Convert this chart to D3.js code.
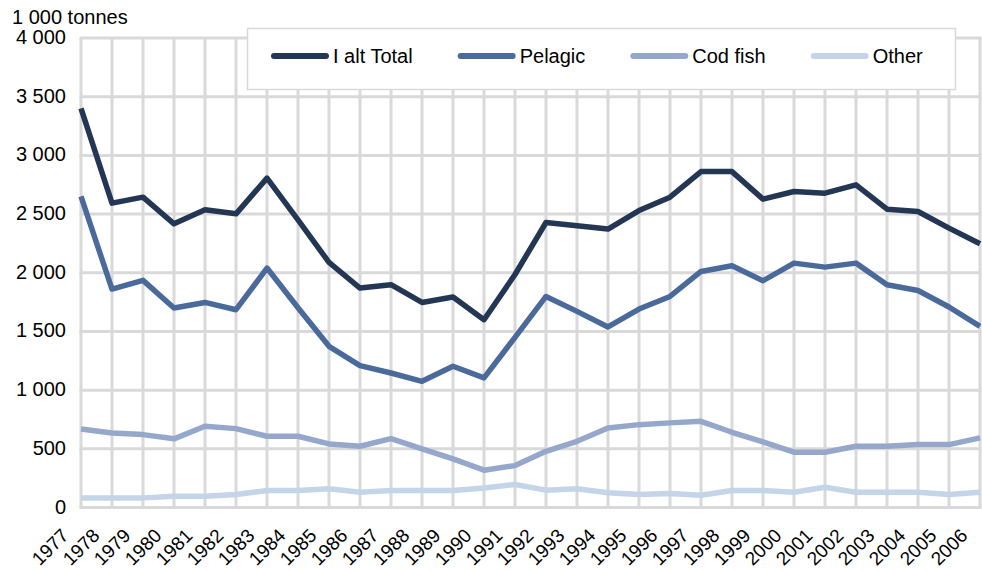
<!DOCTYPE html>
<html>
<head>
<meta charset="utf-8">
<script src="https://cdn.jsdelivr.net/npm/d3@7"></script>
<style>
  body { margin: 0; background: #fff; }
  svg { display: block; font-family: "Liberation Sans", Arial, sans-serif; }
</style>
</head>
<body>
<div id="chart"></div>
<script>
// --- Data (1 000 tonnes) ---
const years = d3.range(1977, 2007);
const seriesNames = ["I alt Total", "Pelagic", "Cod fish", "Other"];
const total = [3400, 2593, 2644, 2417, 2536, 2502, 2806, 2451, 2088, 1870,
               1898, 1747, 1793, 1600, 1985, 2428, 2400, 2372, 2530, 2644,
               2862, 2862, 2627, 2692, 2678, 2749, 2542, 2522, 2380, 2247];
const pelagic = [2650, 1861, 1935, 1700, 1747, 1685, 2040, 1702, 1373, 1209,
                 1146, 1075, 1203, 1104, 1450, 1798, 1671, 1538, 1691, 1798,
                 2011, 2060, 1932, 2082, 2048, 2082, 1898, 1849, 1708, 1543];
const codFish = [669, 635, 621, 585, 692, 672, 607, 607, 542, 522,
                 587, 500, 414, 318, 357, 479, 564, 678, 706, 721,
                 734, 641, 559, 471, 471, 522, 522, 536, 536, 593];
const other = [82, 82, 82, 96, 96, 111, 145, 145, 159, 130,
               145, 145, 145, 167, 196, 148, 159, 125, 111, 120,
               105, 145, 145, 130, 173, 130, 130, 130, 111, 130];
const yTicks = d3.range(0, 4001, 500);
const unitLabel = "1 000 tonnes";

const colors = ["#233654", "#4b6a9c", "#95a8cc", "#c4d5e9"];
const series = [total, pelagic, codFish, other].map((values, i) => ({
    name: seriesNames[i],
    color: colors[i],
    values: values.map((v, j) => ({ year: years[j], value: v }))
}));

// --- Layout ---
const width = 982, height = 571;
const margin = { top: 38, right: 2, bottom: 63, left: 81 };
const gridColor = "#d9d9d9";

const svg = d3.select("#chart").append("svg")
    .attr("width", width)
    .attr("height", height);

const x = d3.scaleLinear()
    .domain(d3.extent(years))
    .range([margin.left, width - margin.right]);
const y = d3.scaleLinear()
    .domain([0, 4000])
    .range([height - margin.bottom - 0.5, margin.top]);

const locale = d3.formatLocale({ decimal: ",", thousands: " ", grouping: [3], currency: ["", ""] });
const fmt = locale.format(",d");

// --- Grid ---
const grid = svg.append("g").attr("stroke", gridColor).attr("stroke-width", 3);
grid.selectAll("line.h").data(yTicks).join("line")
    .attr("class", "h")
    .attr("x1", x.range()[0] - 1.5).attr("x2", x.range()[1] + 1.5)
    .attr("y1", d => y(d)).attr("y2", d => y(d));
grid.selectAll("line.v").data(years).join("line")
    .attr("class", "v")
    .attr("x1", d => x(d)).attr("x2", d => x(d))
    .attr("y1", y(4000)).attr("y2", y(0));

// --- Y axis labels ---
svg.append("g").selectAll("text").data(yTicks).join("text")
    .attr("x", 66)
    .attr("y", d => y(d))
    .attr("dy", "0.3em")
    .attr("text-anchor", "end")
    .attr("font-size", 20)
    .attr("fill", "#000")
    .text(d => fmt(d));

svg.append("text")
    .attr("x", 12).attr("y", 24)
    .attr("font-size", 20)
    .attr("fill", "#000")
    .text(unitLabel);

// --- X axis labels ---
svg.append("g").selectAll("text").data(years).join("text")
    .attr("transform", d => `translate(${x(d) - 16},532) rotate(-45)`)
    .attr("dy", "0.35em")
    .attr("text-anchor", "end")
    .attr("font-size", 19)
    .attr("fill", "#000")
    .text(d => d);

// --- Lines ---
const line = d3.line()
    .x(d => x(d.year))
    .y(d => y(d.value));

svg.append("g").selectAll("path").data(series).join("path")
    .attr("d", d => line(d.values))
    .attr("fill", "none")
    .attr("stroke", d => d.color)
    .attr("stroke-width", 5.5)
    .attr("stroke-linejoin", "round");

// --- Legend ---
const legend = svg.append("g");
legend.append("rect")
    .attr("x", 247.5).attr("y", 28.5)
    .attr("width", 708).attr("height", 61)
    .attr("fill", "#fff")
    .attr("stroke", gridColor)
    .attr("stroke-width", 1.5);

let lx = 274;
series.forEach(s => {
    const g = legend.append("g");
    g.append("line")
        .attr("x1", lx).attr("x2", lx + 52)
        .attr("y1", 56).attr("y2", 56)
        .attr("stroke", s.color)
        .attr("stroke-width", 6)
        .attr("stroke-linecap", "round");
    const t = g.append("text")
        .attr("x", lx + 59).attr("y", 56)
        .attr("dy", "0.35em")
        .attr("font-size", 20)
        .attr("fill", "#000")
        .text(s.name);
    lx += 59 + t.node().getComputedTextLength() + 48;
});
</script>
</body>
</html>
